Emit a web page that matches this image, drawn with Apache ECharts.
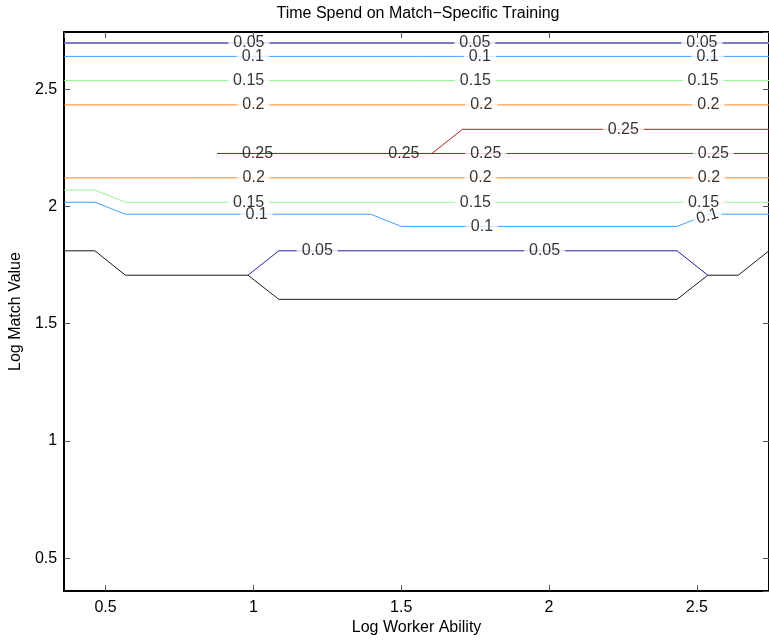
<!DOCTYPE html>
<html>
<head>
<meta charset="utf-8">
<title>Time Spend on Match-Specific Training</title>
<script src="https://cdn.jsdelivr.net/npm/echarts@6/dist/echarts.min.js"></script>
<style>
html, body { margin: 0; padding: 0; background: #fff; }
#chart { width: 769px; height: 641px; }
</style>
</head>
<body>
<div id="chart"></div>
<script>
// axis ranges (log worker ability, log match value)
const xRange = [0.36, 2.744];
const yRange = [0.36, 2.744];

// contour lines, points as [log worker ability, log match value]
const level0 = [[0.36, 1.811], [0.464, 1.811], [0.567, 1.707], [0.982, 1.707], [1.086, 1.604],
                [2.433, 1.604], [2.537, 1.707], [2.64, 1.707], [2.744, 1.811]];
const level005Low = [[0.982, 1.707], [1.086, 1.811], [2.433, 1.811], [2.537, 1.707]];
const level005Top = [[0.36, 2.697], [2.744, 2.697]];
const level01Low = [[0.36, 2.018], [0.464, 2.018], [0.567, 1.967], [1.397, 1.967], [1.5, 1.915],
                    [2.433, 1.915], [2.537, 1.967], [2.744, 1.967]];
const level01Top = [[0.36, 2.64], [2.744, 2.64]];
const level015Low = [[0.36, 2.07], [0.464, 2.07], [0.567, 2.018], [2.744, 2.018]];
const level015Top = [[0.36, 2.537], [2.744, 2.537]];
const level02Low = [[0.36, 2.122], [2.744, 2.122]];
const level02Top = [[0.36, 2.433], [2.744, 2.433]];
const level025Upper = [[0.878, 2.226], [1.604, 2.226], [1.707, 2.329], [2.744, 2.329]];
const level025Lower = [[0.878, 2.226], [2.744, 2.226]];

// contour labels that cut a gap in their line
const gapLabels = [
    [0.985, 2.697, '0.05'], [1.749, 2.697, '0.05'], [2.517, 2.697, '0.05'],
    [0.998, 2.64, '0.1'], [1.766, 2.64, '0.1'], [2.536, 2.64, '0.1'],
    [0.984, 2.537, '0.15'], [1.751, 2.537, '0.15'], [2.521, 2.537, '0.15'],
    [1.0, 2.433, '0.2'], [1.771, 2.433, '0.2'], [2.539, 2.433, '0.2'],
    [2.251, 2.329, '0.25'], [1.786, 2.226, '0.25'], [2.556, 2.226, '0.25'],
    [1.001, 2.122, '0.2'], [1.768, 2.122, '0.2'], [2.541, 2.122, '0.2'],
    [0.984, 2.018, '0.15'], [1.751, 2.018, '0.15'], [2.523, 2.018, '0.15'],
    [1.011, 1.967, '0.1'], [1.773, 1.915, '0.1'],
    [1.216, 1.811, '0.05'], [1.985, 1.811, '0.05']
];
// labels sitting under the doubled 0.25 line
const coveredLabels = [[1.014, 2.226, '0.25'], [1.509, 2.226, '0.25']];
// label on the rising 0.1 segment
const slopedLabels = [[2.536, 1.958, '0.1']];

const font = '"Liberation Sans", Arial, Helvetica, sans-serif';

const chart = echarts.init(document.getElementById('chart'));

function contour(data, color, width) {
    return {
        type: 'line',
        data: data,
        symbol: 'none',
        silent: true,
        z: 2,
        lineStyle: { color: color, width: width || 1 }
    };
}

function labels(data, extra) {
    return {
        type: 'scatter',
        data: data.map(d => ({ value: [d[0], d[1]], name: d[2] })),
        symbolSize: 1,
        silent: true,
        z: 5,
        itemStyle: { color: 'rgba(0,0,0,0)' },
        label: Object.assign({
            show: true,
            position: 'inside',
            formatter: '{b}',
            color: '#000',
            fontSize: 16,
            fontFamily: font,
            lineHeight: 10
        }, extra)
    };
}

function axisBase(pos, showLabel) {
    return {
        type: 'value',
        position: pos,
        splitNumber: 5,
        splitLine: { show: false },
        axisLine: { show: true, onZero: false, lineStyle: { color: '#000', width: 2 } },
        axisTick: { show: true, inside: true, length: 6, lineStyle: { color: '#555' } },
        axisLabel: {
            show: showLabel,
            color: '#000',
            fontSize: 16,
            fontFamily: font,
            margin: 7,
            showMinLabel: false,
            showMaxLabel: false
        }
    };
}

const xBottom = Object.assign(axisBase('bottom', true), {
    min: xRange[0], max: xRange[1],
    name: 'Log Worker Ability', nameLocation: 'middle', nameGap: 27,
    nameTextStyle: { color: '#000', fontSize: 16, fontFamily: font }
});
xBottom.axisLabel.margin = 8;
const xTop = Object.assign(axisBase('top', false), { min: xRange[0], max: xRange[1] });
const yLeft = Object.assign(axisBase('left', true), {
    min: yRange[0], max: yRange[1],
    name: 'Log Match Value', nameLocation: 'middle', nameGap: 30,
    nameTextStyle: { color: '#000', fontSize: 16, fontFamily: font }
});
const yRight = Object.assign(axisBase('right', false), { min: yRange[0], max: yRange[1] });

const option = {
    animation: false,
    backgroundColor: '#fff',
    title: {
        text: 'Time Spend on Match\u2212Specific Training',
        left: 418,
        top: 6,
        padding: 0,
        textAlign: 'center',
        textStyle: { color: '#000', fontSize: 16, fontWeight: 'normal', fontFamily: font }
    },
    grid: { left: 61, right: -6, top: 32, bottom: 48, containLabel: false },
    xAxis: [xBottom, xTop],
    yAxis: [yLeft, yRight],
    series: [
        contour(level0, '#1a1a1a'),
        contour(level005Low, '#2222a4'),
        contour(level005Top, '#7c7cc4', 2),
        contour(level01Low, '#3ea2ff'),
        contour(level01Top, '#3ea2ff'),
        contour(level015Low, '#96f596'),
        contour(level015Top, '#96f596'),
        contour(level02Low, '#ff8526'),
        contour(level02Top, '#ff8526'),
        contour(level025Upper, '#a32222'),
        contour(level025Lower, '#a32222'),
        labels(gapLabels, { backgroundColor: '#fff', padding: [0, 5] }),
        labels(coveredLabels, {}),
        labels(slopedLabels, { rotate: 16, backgroundColor: '#fff', padding: [0, 3] })
    ]
};

chart.setOption(option);
</script>
</body>
</html>
